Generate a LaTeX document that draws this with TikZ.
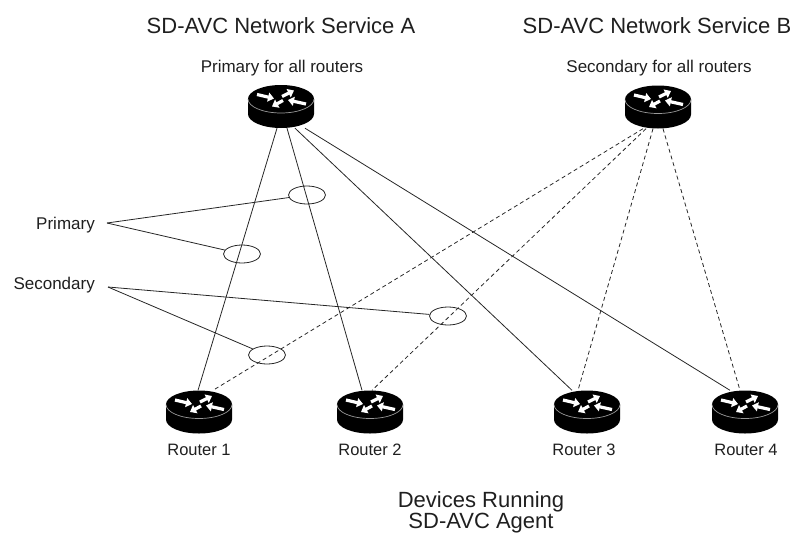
\documentclass[tikz,border=0pt]{standalone}
\usepackage{fontspec}
\setmainfont{Liberation Sans}
\usetikzlibrary{shapes.geometric,arrows.meta,backgrounds}

\tikzset{
  routerbox/.style={minimum width=66pt, minimum height=43pt, inner sep=0pt},
  link/.style={line width=0.8pt, draw=black!85},
  backup/.style={link, dash pattern=on 4pt off 3pt},
  callout/.style={ellipse, draw=black!85, line width=0.8pt, minimum width=37pt, minimum height=18pt, inner sep=0pt},
  titletext/.style={font=\fontsize{22}{26}\selectfont, text=black!88, anchor=base, inner sep=0pt},
  smalltext/.style={font=\fontsize{17}{20}\selectfont, text=black!88, anchor=base, inner sep=0pt},
  rlabel/.style={font=\fontsize{16.5}{19}\selectfont, text=black!88, anchor=base, inner sep=0pt},
  wharrow/.style={white, line width=3.2pt, -{Triangle[length=6pt, width=9pt]}},
  pics/routericon/.style={code={
    \fill[black] (-33,-7.5) -- (-33,7.5) arc[start angle=180, end angle=360, x radius=33pt, y radius=14pt] -- (33,-7.5) -- cycle;
    \fill[black] (0,-7.5) ellipse[x radius=33pt, y radius=14pt];
    \draw[black!40, line width=0.7pt] (-33,-7.5) arc[start angle=180, end angle=360, x radius=33pt, y radius=14pt];
    \draw[wharrow] (-24,-12) -- (-7,-8);
    \draw[wharrow] (1,-10) -- (13,-16);
    \draw[wharrow] (2,-6) -- (-9,0);
    \draw[wharrow] (25,-2.5) -- (7,-6.5);
  }}
}

\begin{document}
\begin{tikzpicture}[x=1pt,y=-1pt]
\useasboundingbox (0,0) rectangle (799,533);

% titles
\node[titletext] (tA) at (281,33) {SD-AVC Network Service A};
\node[titletext] (tB) at (657,33) {SD-AVC Network Service B};
\node[smalltext] (sA) at (282,72) {Primary for all routers};
\node[smalltext] (sB) at (659,72) {Secondary for all routers};

% routers
\node[routerbox] (A) at (281,106.5) {};
\node[routerbox] (B) at (658,107) {};
\node[routerbox] (r1) at (199,412) {};
\node[routerbox] (r2) at (370,412) {};
\node[routerbox] (r3) at (587,412) {};
\node[routerbox] (r4) at (745,412) {};
\pic at (A.center) {routericon};
\pic at (B.center) {routericon};
\pic at (r1.center) {routericon};
\pic at (r2.center) {routericon};
\pic at (r3.center) {routericon};
\pic at (r4.center) {routericon};

% router labels
\node[rlabel] (l1) at (199,455) {Router 1};
\node[rlabel] (l2) at (370,455) {Router 2};
\node[rlabel] (l3) at (584,455) {Router 3};
\node[rlabel] (l4) at (746,455) {Router 4};

% bottom caption
\node[titletext] (d1) at (481,507) {Devices Running};
\node[titletext] (d2) at (481,528) {SD-AVC Agent};

% side labels
\node[smalltext, anchor=base east] (pl) at (95,229) {Primary};
\node[smalltext, anchor=base east] (sl) at (95,289) {Secondary};
\coordinate (pj) at (107,223);
\coordinate (sj) at (108,287);

% callout ellipses
\node[callout] (e1) at (307,195) {};
\node[callout] (e2) at (242,254) {};
\node[callout] (e3) at (448,316) {};
\node[callout] (e4) at (267,355) {};

\begin{scope}[on background layer]
  % primary links
  \draw[link] ([xshift=-4pt]A.south) -- ([xshift=-1pt]r1.north);
  \draw[link] ([xshift=6pt]A.south) -- ([xshift=-8pt]r2.north);
  \draw[link] ([xshift=14pt]A.south) -- ([xshift=-15pt]r3.north);
  \draw[link] ([xshift=24pt]A.south) -- ([xshift=-15pt]r4.north);
  % secondary links
  \draw[backup] ([xshift=-15pt]B.south) -- ([xshift=14pt]r1.north);
  \draw[backup] ([xshift=-12pt]B.south) -- ([xshift=2pt]r2.north);
  \draw[backup] ([xshift=-5pt]B.south) -- ([xshift=-9pt]r3.north);
  \draw[backup] ([xshift=5pt]B.south) -- ([xshift=-5pt]r4.north);
\end{scope}

% pointer lines
\draw[link] (pj) -- (e1);
\draw[link] (pj) -- (e2);
\draw[link] (sj) -- (e3);
\draw[link] (sj) -- (e4);
\end{tikzpicture}
\end{document}
